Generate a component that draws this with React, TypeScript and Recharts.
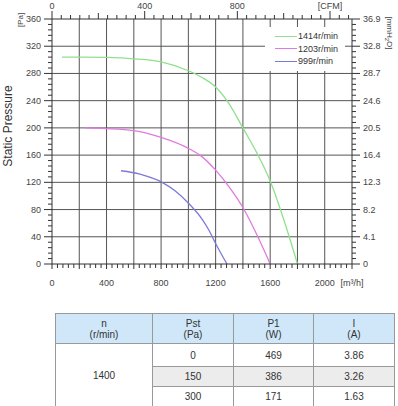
import { ComposedChart, Line, XAxis, YAxis, CartesianGrid, Legend } from "recharts";

// fan curves (flow m3/h, static pressure Pa)
const flow1414 = [73, 200, 400, 600, 800, 1000, 1100, 1200, 1300, 1400, 1500, 1600, 1700, 1800];
const pa1414 = [304, 304, 303.5, 301.5, 297, 284, 274, 260, 235, 200, 164, 122, 65, 0];
const flow1203 = [242, 400, 600, 800, 1000, 1085, 1200, 1300, 1400, 1500, 1600];
const pa1203 = [200, 199, 196, 186, 170, 160, 138, 113, 83, 44, 0];
const flow999 = [506, 645, 807, 900, 1012, 1100, 1150, 1195, 1283];
const pa999 = [137, 132, 120, 108, 87, 66, 50, 32, 0];

const seriesNames = ["1414r/min", "1203r/min", "999r/min"];
const seriesColors = ["#8fe08f", "#e07ae0", "#7b7bd6"];

// table
const tableSpeed = "1400";
const pstValues = ["0", "150", "300"];
const p1Values = ["469", "386", "171"];
const currentValues = ["3.86", "3.26", "1.63"];

const range = (from: number, to: number, step: number) => {
  const out: number[] = [];
  for (let v = from; v <= to + 1e-9; v += step) out.push(v);
  return out;
};

const paTicks = range(0, 360, 8);
const flowTicks = range(0, 2200, 40);
const cfmTicks = range(0, 1280, 40);
const gridFlow = range(200, 2000, 200);
const gridPa = range(40, 320, 40);

const M3H_PER_CFM = 1.699;
const CFM_MAX = 2200 / M3H_PER_CFM;
const AXIS = "#333";
const TXT = "#444";

const toPoints = (xs: number[], ys: number[]) => xs.map((q, i) => ({ q, p: ys[i] }));
const series = [
  toPoints(flow1414, pa1414),
  toPoints(flow1203, pa1203),
  toPoints(flow999, pa999),
];
// same top curve in CFM, only so the CFM / mmH2O axes have a series
const series1414Cfm = flow1414.map((q, i) => ({ q: q / M3H_PER_CFM, p: pa1414[i] }));

function LeftTick({ x, y, payload }: any) {
  const v = payload.value;
  const major = v % 40 === 0;
  return (
    <g>
      <line x1={x - (major ? 8 : 4)} x2={x} y1={y} y2={y} stroke={AXIS} />
      {major && (
        <text x={x - 11} y={y + 3} textAnchor="end" fontSize={9} fill={TXT}>
          {v}
        </text>
      )}
    </g>
  );
}

function RightTick({ x, y, payload }: any) {
  const v = payload.value;
  const major = v % 40 === 0;
  const label = v === 0 ? "0" : ((v / 40) * 4.1).toFixed(1);
  return (
    <g>
      <line x1={x} x2={x + (major ? 8 : 4)} y1={y} y2={y} stroke={AXIS} />
      {major && (
        <text x={x + 11} y={y + 3} textAnchor="start" fontSize={9} fill={TXT}>
          {label}
        </text>
      )}
    </g>
  );
}

function TopTick({ x, y, payload }: any) {
  const v = payload.value;
  const major = v % 400 === 0;
  const mid = v % 200 === 0;
  const len = major ? 8 : mid ? 6 : 4;
  const label = v === 1200 ? "[CFM]" : major ? String(v) : null;
  return (
    <g>
      <line x1={x} x2={x} y1={y - len} y2={y} stroke={AXIS} />
      {label && (
        <text x={x} y={y - 10} textAnchor="middle" fontSize={9} fill={TXT}>
          {label}
        </text>
      )}
    </g>
  );
}

function BottomTick({ x, y, payload }: any) {
  const v = payload.value;
  const mid = v % 200 === 0;
  const major = v % 400 === 0;
  const label = v === 2200 ? "[m\u00b3/h]" : major ? String(v) : null;
  return (
    <g>
      <line x1={x} x2={x} y1={y} y2={y + (mid ? 5 : 4)} stroke={AXIS} />
      {label && (
        <text x={x} y={y + 22} textAnchor="middle" fontSize={9} fill={TXT}>
          {label}
        </text>
      )}
    </g>
  );
}

function LegendBox() {
  return (
    <div style={{ background: "#fff", padding: "3px 0 3px 10px", width: 70 }}>
      {seriesNames.map((n, i) => (
        <div key={n} style={{ display: "flex", alignItems: "center", height: 12.5 }}>
          <div style={{ width: 22, height: 1.3, background: seriesColors[i] }} />
          <span style={{ fontSize: 9, color: "#333", marginLeft: 1 }}>{n}</span>
        </div>
      ))}
    </div>
  );
}

const cell: React.CSSProperties = {
  border: "1px solid #999",
  textAlign: "center",
  padding: 0,
  fontSize: 10,
  color: "#333",
  lineHeight: "11px",
};

export default function App() {
  return (
    <div
      style={{
        position: "absolute",
        left: 0,
        top: 0,
        width: 398,
        height: 406,
        background: "#fff",
        fontFamily: "'Liberation Sans', Arial, sans-serif",
        overflow: "hidden",
      }}
    >
      <ComposedChart
        width={398}
        height={300}
        margin={{ top: 0, right: 0, bottom: 0, left: 0 }}
        style={{ fontFamily: "'Liberation Sans', Arial, sans-serif" }}
      >
        <CartesianGrid
          xAxisId="bottom"
          yAxisId="left"
          stroke="#555"
          strokeWidth={1}
          horizontalValues={gridPa}
          verticalValues={gridFlow}
        />
        <XAxis
          xAxisId="bottom"
          dataKey="q"
          type="number"
          domain={[0, 2200]}
          ticks={flowTicks}
          interval={0}
          height={36}
          tickSize={0}
          tickMargin={0}
          tick={<BottomTick />}
          axisLine={{ stroke: AXIS }}
          allowDuplicatedCategory={false}
        />
        <XAxis
          xAxisId="top"
          dataKey="q"
          orientation="top"
          type="number"
          domain={[0, CFM_MAX]}
          allowDataOverflow
          ticks={cfmTicks}
          interval={0}
          height={19}
          tickSize={0}
          tickMargin={0}
          tick={<TopTick />}
          axisLine={{ stroke: AXIS }}
          allowDuplicatedCategory={false}
        />
        <YAxis
          yAxisId="left"
          type="number"
          domain={[0, 360]}
          ticks={paTicks}
          interval={0}
          width={52}
          tickSize={0}
          tickMargin={0}
          tick={<LeftTick />}
          axisLine={{ stroke: AXIS }}
        />
        <YAxis
          yAxisId="right"
          orientation="right"
          type="number"
          domain={[0, 360]}
          allowDataOverflow
          ticks={paTicks}
          interval={0}
          width={46}
          tickSize={0}
          tickMargin={0}
          tick={<RightTick />}
          axisLine={{ stroke: AXIS }}
        />
        {series.map((d, i) => (
          <Line
            key={seriesNames[i]}
            name={seriesNames[i]}
            data={d}
            dataKey="p"
            xAxisId="bottom"
            yAxisId="left"
            type="monotone"
            stroke={seriesColors[i]}
            strokeWidth={1.3}
            dot={false}
            activeDot={false}
            isAnimationActive={false}
          />
        ))}
        <Line
          data={series1414Cfm}
          dataKey="p"
          xAxisId="top"
          yAxisId="right"
          type="monotone"
          stroke="none"
          strokeOpacity={0}
          legendType="none"
          dot={false}
          activeDot={false}
          isAnimationActive={false}
        />
        <Legend
          layout="vertical"
          align="center"
          verticalAlign="middle"
          content={<LegendBox />}
          wrapperStyle={{ left: 265, top: 27, width: 80 }}
        />
      </ComposedChart>

      {/* axis titles */}
      <div
        style={{
          position: "absolute",
          left: 8,
          top: 126,
          transform: "translate(-50%, -50%) rotate(-90deg)",
          fontSize: 12,
          color: "#333",
          whiteSpace: "nowrap",
        }}
      >
        Static Pressure
      </div>
      <div
        style={{
          position: "absolute",
          left: 20,
          top: 20,
          transform: "translate(-50%, -50%) rotate(-90deg)",
          fontSize: 8,
          color: TXT,
          whiteSpace: "nowrap",
        }}
      >
        [Pa]
      </div>
      <div
        style={{
          position: "absolute",
          left: 389,
          top: 33,
          transform: "translate(-50%, -50%) rotate(90deg)",
          fontSize: 8,
          color: TXT,
          whiteSpace: "nowrap",
        }}
      >
        [mmH<sub style={{ fontSize: 6 }}>2</sub>O]
      </div>

      <table
        style={{
          position: "absolute",
          left: 55,
          top: 313,
          width: 339,
          borderCollapse: "collapse",
          tableLayout: "fixed",
        }}
      >
        <colgroup>
          <col style={{ width: 97 }} />
          <col style={{ width: 81 }} />
          <col style={{ width: 80 }} />
          <col style={{ width: 81 }} />
        </colgroup>
        <tbody>
          <tr style={{ height: 30, background: "#cfe7f8" }}>
            <td style={cell}>n<br />(r/min)</td>
            <td style={cell}>Pst<br />(Pa)</td>
            <td style={cell}>P1<br />(W)</td>
            <td style={cell}>I<br />(A)</td>
          </tr>
          {pstValues.map((pst, i) => (
            <tr key={pst} style={{ height: i === 0 ? 23 : 20, background: i === 1 ? "#ececec" : "#fff" }}>
              {i === 0 && (
                <td rowSpan={3} style={{ ...cell, background: "#fff" }}>
                  {tableSpeed}
                </td>
              )}
              <td style={cell}>{pst}</td>
              <td style={cell}>{p1Values[i]}</td>
              <td style={cell}>{currentValues[i]}</td>
            </tr>
          ))}
        </tbody>
      </table>
    </div>
  );
}
